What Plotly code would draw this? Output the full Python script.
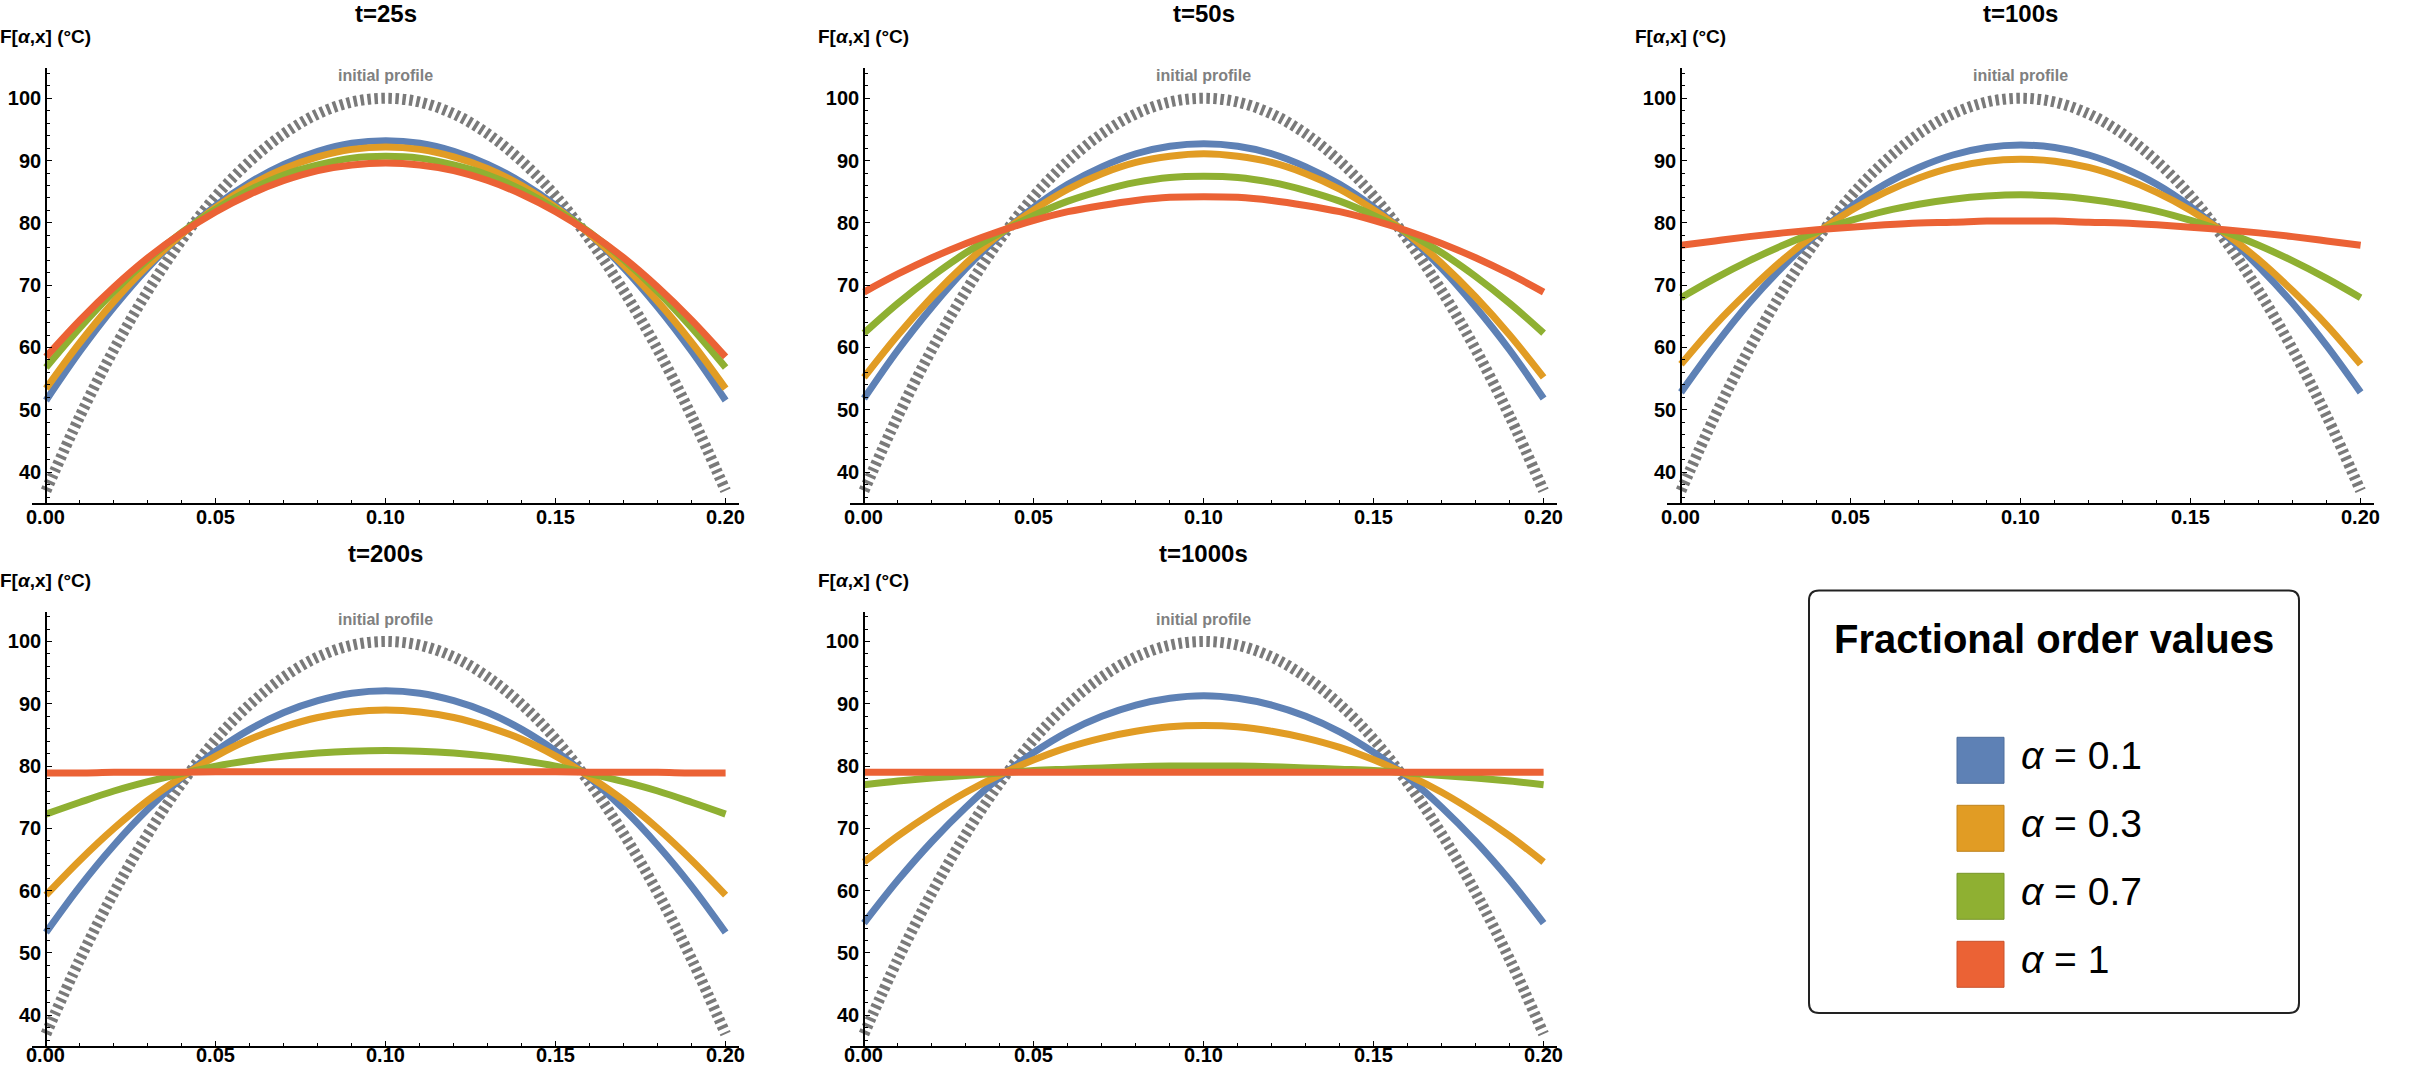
import plotly.graph_objects as go

# x positions along the rod (m)
X_M = [0.00, 0.01, 0.02, 0.03, 0.04, 0.05, 0.06, 0.07, 0.08, 0.09, 0.10,
       0.11, 0.12, 0.13, 0.14, 0.15, 0.16, 0.17, 0.18, 0.19, 0.20]

INITIAL_PROFILE = [37.0, 49.0, 59.7, 69.1, 77.3, 84.3, 89.9, 94.3, 97.5, 99.4, 100.0,
                   99.4, 97.5, 94.3, 89.9, 84.3, 77.3, 69.1, 59.7, 49.0, 37.0]

ALPHAS = ["0.1", "0.3", "0.7", "1"]
COLORS = ["#5E81B5", "#E19C24", "#8FB032", "#EB6235"]
EDGE_COLORS = ["#4F6E9C", "#BF841E", "#79962A", "#C9532D"]
TIME_LABELS = ["t=25s", "t=50s", "t=100s", "t=200s", "t=1000s"]

# t = 25 s
T25_A01 = [51.5, 59.4, 66.5, 72.8, 78.2, 82.8, 86.5, 89.4, 91.5, 92.8, 93.2,
           92.8, 91.5, 89.4, 86.5, 82.8, 78.2, 72.8, 66.5, 59.4, 51.5]
T25_A03 = [53.4, 60.8, 67.4, 73.2, 78.2, 82.5, 86.0, 88.7, 90.6, 91.8, 92.2,
           91.8, 90.6, 88.7, 86.0, 82.5, 78.2, 73.2, 67.4, 60.8, 53.4]
T25_A07 = [56.8, 63.2, 69.0, 74.1, 78.5, 82.2, 85.3, 87.7, 89.3, 90.4, 90.7,
           90.4, 89.3, 87.7, 85.3, 82.2, 78.5, 74.1, 69.0, 63.2, 56.8]
T25_A10 = [58.5, 64.4, 69.7, 74.4, 78.4, 81.8, 84.6, 86.8, 88.4, 89.3, 89.6,
           89.3, 88.4, 86.8, 84.6, 81.8, 78.4, 74.4, 69.7, 64.4, 58.5]

# t = 50 s
T50_A01 = [51.8, 59.6, 66.5, 72.7, 78.0, 82.5, 86.2, 89.0, 91.1, 92.3, 92.7,
           92.3, 91.1, 89.0, 86.2, 82.5, 78.0, 72.7, 66.5, 59.6, 51.8]
T50_A03 = [55.2, 62.0, 68.1, 73.5, 78.2, 82.1, 85.4, 87.9, 89.7, 90.7, 91.1,
           90.7, 89.7, 87.9, 85.4, 82.1, 78.2, 73.5, 68.1, 62.0, 55.2]
T50_A07 = [62.3, 67.1, 71.4, 75.2, 78.4, 81.2, 83.5, 85.2, 86.5, 87.3, 87.5,
           87.3, 86.5, 85.2, 83.5, 81.2, 78.4, 75.2, 71.4, 67.1, 62.3]
T50_A10 = [68.9, 71.8, 74.4, 76.7, 78.7, 80.4, 81.8, 82.8, 83.6, 84.1, 84.2,
           84.1, 83.6, 82.8, 81.8, 80.4, 78.7, 76.7, 74.4, 71.8, 68.9]

# t = 100 s
T100_A01 = [52.8, 60.3, 67.1, 73.0, 78.2, 82.6, 86.2, 88.9, 90.9, 92.1, 92.5,
            92.1, 90.9, 88.9, 86.2, 82.6, 78.2, 73.0, 67.1, 60.3, 52.8]
T100_A03 = [57.3, 63.6, 69.1, 74.1, 78.4, 82.0, 84.9, 87.2, 88.9, 89.9, 90.2,
            89.9, 88.9, 87.2, 84.9, 82.0, 78.4, 74.1, 69.1, 63.6, 57.3]
T100_A07 = [68.0, 71.1, 73.9, 76.4, 78.6, 80.4, 81.9, 83.0, 83.8, 84.3, 84.5,
            84.3, 83.8, 83.0, 81.9, 80.4, 78.6, 76.4, 73.9, 71.1, 68.0]
T100_A10 = [76.4, 77.1, 77.8, 78.4, 78.9, 79.3, 79.7, 80.0, 80.1, 80.3, 80.3,
            80.3, 80.1, 80.0, 79.7, 79.3, 78.9, 78.4, 77.8, 77.1, 76.4]

# t = 200 s
T200_A01 = [53.3, 60.7, 67.3, 73.1, 78.1, 82.4, 85.9, 88.6, 90.5, 91.7, 92.1,
            91.7, 90.5, 88.6, 85.9, 82.4, 78.1, 73.1, 67.3, 60.7, 53.3]
T200_A03 = [59.3, 64.9, 70.0, 74.5, 78.3, 81.6, 84.3, 86.3, 87.8, 88.7, 89.0,
            88.7, 87.8, 86.3, 84.3, 81.6, 78.3, 74.5, 70.0, 64.9, 59.3]
T200_A07 = [72.3, 74.2, 76.0, 77.5, 78.8, 80.0, 80.9, 81.6, 82.1, 82.4, 82.5,
            82.4, 82.1, 81.6, 80.9, 80.0, 78.8, 77.5, 76.0, 74.2, 72.3]
T200_A10 = [78.9, 78.9, 79.0, 79.0, 79.0, 79.1, 79.1, 79.1, 79.1, 79.1, 79.1,
            79.1, 79.1, 79.1, 79.1, 79.1, 79.0, 79.0, 79.0, 78.9, 78.9]

# t = 1000 s
T1000_A01 = [54.8, 61.7, 67.9, 73.4, 78.2, 82.2, 85.5, 88.0, 89.8, 90.9, 91.3,
             90.9, 89.8, 88.0, 85.5, 82.2, 78.2, 73.4, 67.9, 61.7, 54.8]
T1000_A03 = [64.6, 68.8, 72.5, 75.8, 78.6, 81.0, 83.0, 84.5, 85.6, 86.3, 86.5,
             86.3, 85.6, 84.5, 83.0, 81.0, 78.6, 75.8, 72.5, 68.8, 64.6]
T1000_A07 = [77.0, 77.6, 78.1, 78.5, 78.9, 79.3, 79.5, 79.7, 79.9, 80.0, 80.0,
             80.0, 79.9, 79.7, 79.5, 79.3, 78.9, 78.5, 78.1, 77.6, 77.0]
T1000_A10 = [79.0, 79.0, 79.0, 79.0, 79.0, 79.0, 79.0, 79.0, 79.0, 79.0, 79.0,
             79.0, 79.0, 79.0, 79.0, 79.0, 79.0, 79.0, 79.0, 79.0, 79.0]

PANELS = [
    [T25_A01, T25_A03, T25_A07, T25_A10],
    [T50_A01, T50_A03, T50_A07, T50_A10],
    [T100_A01, T100_A03, T100_A07, T100_A10],
    [T200_A01, T200_A03, T200_A07, T200_A10],
    [T1000_A01, T1000_A03, T1000_A07, T1000_A10],
]

X_TICKS = [0.00, 0.05, 0.10, 0.15, 0.20]
Y_TICKS = [40, 50, 60, 70, 80, 90, 100]

# page geometry (pixels)
W, H = 2433, 1069
X_RANGE = [-0.004, 0.204]
Y_RANGE = [35.1, 104.8]
PX_PER_X = 3398
PX_PER_Y = 6.23
ZERO_PX = [46, 864, 1681]     # column of x=0 in each panel column
TOP100_PX = [98.3, 641.5]     # row of F=100 in each panel row

FONT = "Liberation Sans, Arial, sans-serif"


def xdom(col):
    left = ZERO_PX[col] + X_RANGE[0] * PX_PER_X
    right = ZERO_PX[col] + X_RANGE[1] * PX_PER_X
    return [left / W, right / W]


def ydom(row):
    bottom = TOP100_PX[row] + (100 - Y_RANGE[0]) * PX_PER_Y
    top = TOP100_PX[row] - (Y_RANGE[1] - 100) * PX_PER_Y
    return [1 - bottom / H, 1 - top / H]


fig = go.Figure()
annotations = []
shapes = []
layout_axes = {}

for i, curves in enumerate(PANELS):
    row, col = i // 3, i % 3
    xa = "x" if i == 0 else f"x{i + 1}"
    ya = "y" if i == 0 else f"y{i + 1}"

    fig.add_trace(go.Scatter(
        x=X_M, y=INITIAL_PROFILE, xaxis=xa, yaxis=ya, mode="lines",
        line=dict(color="#7a7a7a", width=11, dash="3.5px,3.5px", shape="spline"),
        showlegend=False, hoverinfo="skip"))
    for vals, color, a in zip(curves, COLORS, ALPHAS):
        fig.add_trace(go.Scatter(
            x=X_M, y=vals, xaxis=xa, yaxis=ya, mode="lines", name=f"α = {a}",
            line=dict(color=color, width=7, shape="spline"),
            showlegend=False))

    layout_axes["xaxis" if i == 0 else f"xaxis{i + 1}"] = dict(
        domain=xdom(col), range=X_RANGE, anchor=ya,
        showgrid=False, zeroline=False, showline=True, linecolor="black", linewidth=1.6,
        ticks="inside", ticklen=5, tickwidth=1.3, tickcolor="black",
        tickvals=X_TICKS, showticklabels=False,
        minor=dict(ticks="inside", dtick=0.01, tick0=0, ticklen=3, tickwidth=1, tickcolor="black"),
    )
    layout_axes["yaxis" if i == 0 else f"yaxis{i + 1}"] = dict(
        domain=ydom(row), range=Y_RANGE, anchor="free", position=ZERO_PX[col] / W,
        showgrid=False, zeroline=False, showline=True, linecolor="black", linewidth=1.6,
        ticks="inside", ticklen=5, tickwidth=1.3, tickcolor="black",
        tickvals=Y_TICKS,
        tickfont=dict(family=FONT, size=20, color="black", weight="bold"),
        minor=dict(ticks="inside", dtick=2, tick0=0, ticklen=3, tickwidth=1, tickcolor="black"),
    )

    axis_px = TOP100_PX[row] + (100 - Y_RANGE[0]) * PX_PER_Y
    # x tick labels under the axis line, kept inside the page at the bottom
    label_px = min(axis_px + 14, H - 14)
    for xv in X_TICKS:
        annotations.append(dict(
            text=f"<b>{xv:.2f}</b>", xref=xa, x=xv, yref="paper",
            y=1 - label_px / H, xanchor="center", yanchor="middle",
            showarrow=False, font=dict(family=FONT, size=20, color="black")))
    title_px = max(TOP100_PX[row] - 88.5, 14)
    annotations += [
        dict(text=f"<b>{TIME_LABELS[i]}</b>", xref=xa, x=0.1, yref="paper",
             y=1 - title_px / H, xanchor="center", yanchor="middle",
             showarrow=False, font=dict(family=FONT, size=24, color="black")),
        dict(text="<b>F[<i>α</i>,x] (°C)</b>", xref=xa, x=0, yref="paper",
             y=1 - (TOP100_PX[row] - 61.5) / H, xanchor="center", yanchor="middle",
             showarrow=False, font=dict(family=FONT, size=19, color="black")),
        dict(text="<b>initial profile</b>", xref=xa, x=0.1, yref=ya, y=103.6,
             xanchor="center", yanchor="middle", showarrow=False,
             font=dict(family=FONT, size=16, color="#808080")),
        dict(text="<b>x(m)</b>", xref=xa, x=0.2095, yref="paper",
             y=1 - (axis_px + 2) / H, xanchor="left", yanchor="middle",
             showarrow=False, font=dict(family=FONT, size=19, color="black")),
    ]

# legend box with rounded corners
bx0, bx1, by0, by1 = 1809 / W, 2299 / W, 1 - 1013 / H, 1 - 590.5 / H
rx, ry = 10 / W, 10 / H
shapes.append(dict(
    type="path", xref="paper", yref="paper",
    path=(f"M {bx0 + rx},{by1} L {bx1 - rx},{by1} Q {bx1},{by1} {bx1},{by1 - ry} "
          f"L {bx1},{by0 + ry} Q {bx1},{by0} {bx1 - rx},{by0} "
          f"L {bx0 + rx},{by0} Q {bx0},{by0} {bx0},{by0 + ry} "
          f"L {bx0},{by1 - ry} Q {bx0},{by1} {bx0 + rx},{by1} Z"),
    line=dict(color="#222222", width=2), fillcolor="white", layer="below"))

annotations.append(dict(
    text="<b>Fractional order values</b>", xref="paper", yref="paper",
    x=2054 / W, y=1 - 639 / H, xanchor="center", yanchor="middle", showarrow=False,
    font=dict(family=FONT, size=40, color="black")))

for k, (a, color, edge) in enumerate(zip(ALPHAS, COLORS, EDGE_COLORS)):
    cy = 760.3 + 68 * k
    shapes.append(dict(
        type="rect", xref="paper", yref="paper",
        x0=1957 / W, x1=2004 / W, y0=1 - (cy + 23) / H, y1=1 - (cy - 23) / H,
        fillcolor=color, line=dict(color=edge, width=1)))
    annotations.append(dict(
        text=f"<i>α</i> = {a}", xref="paper", yref="paper",
        x=2019 / W, y=1 - (cy - 5) / H, xanchor="left", yanchor="middle", showarrow=False,
        font=dict(family=FONT, size=39, color="black")))

fig.update_layout(
    width=W, height=H,
    margin=dict(l=0, r=0, t=0, b=0),
    paper_bgcolor="white", plot_bgcolor="white",
    showlegend=False,
    annotations=annotations, shapes=shapes,
    **layout_axes,
)

# drop the browser's default body margin so the figure fills the window exactly
fig.write_html("out.html", config={"displayModeBar": False},
               post_script="document.body.style.margin = '0';")
